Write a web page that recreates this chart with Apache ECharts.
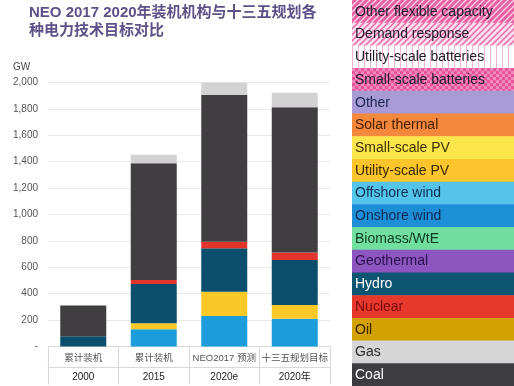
<!DOCTYPE html>
<html><head><meta charset="utf-8">
<script src="https://cdn.jsdelivr.net/npm/echarts@6/dist/echarts.min.js"></script>
<style>html,body{margin:0;padding:0;background:#fff}#c{width:514px;height:386px}</style>
</head><body><div id="c"></div>
<script>
const catTop = ['累计装机', '累计装机', 'NEO2017 预测', '十三五规划目标'];
const catBottom = ['2000', '2015', '2020e', '2020年'];
const onshoreWind = [0, 130, 231, 210];
const utilityPV = [0, 46, 184, 105];
const hydro = [78, 298, 329, 340];
const nuclear = [0, 30, 50, 58];
const coal = [232, 884, 1111, 1100];
const gas = [0, 65, 93, 110];
const yTicks = [0, 200, 400, 600, 800, 1000, 1200, 1400, 1600, 1800, 2000];

const legendNames = ['Other flexible capacity', 'Demand response', 'Utility-scale batteries', 'Small-scale batteries',
  'Other', 'Solar thermal', 'Small-scale PV', 'Utility-scale PV', 'Offshore wind', 'Onshore wind',
  'Biomass/WtE', 'Geothermal', 'Hydro', 'Nuclear', 'Oil', 'Gas', 'Coal'];
const legendColors = ['hatchA', 'hatchB', 'hatchC', 'hatchD',
  '#a89bd8', '#f4883c', '#fde64c', '#fcc52c', '#55c4ea', '#1c8fd6',
  '#70dfa0', '#8c55bf', '#0c5573', '#e6382c', '#d3a100', '#d6d6d6', '#3d3c3f'];
const legendTextColors = ['#1c1c2c', '#1c1c2c', '#1c1c2c', '#1c1c2c',
  '#1a2550', '#4a2000', '#3a3000', '#3a2a00', '#0f3050', '#0c2a55',
  '#0c3a20', '#2a1050', '#ffffff', '#7a0a0a', '#3a2500', '#2a2a2a', '#ffffff'];

function makePattern(kind) {
  const c = document.createElement('canvas');
  c.width = 6; c.height = 6;
  const g = c.getContext('2d');
  if (kind === 'hatchA') {
    g.fillStyle = '#ea5fa3'; g.fillRect(0, 0, 6, 6);
    g.strokeStyle = '#fbd3e6'; g.lineWidth = 1.4;
    g.beginPath(); g.moveTo(0, 6); g.lineTo(6, 0); g.moveTo(-3, 3); g.lineTo(3, -3); g.moveTo(3, 9); g.lineTo(9, 3); g.stroke();
  } else if (kind === 'hatchB') {
    g.fillStyle = '#fbe3ef'; g.fillRect(0, 0, 6, 6);
    g.strokeStyle = '#e8589f'; g.lineWidth = 1.3;
    g.beginPath(); g.moveTo(0, 6); g.lineTo(6, 0); g.moveTo(-3, 3); g.lineTo(3, -3); g.moveTo(3, 9); g.lineTo(9, 3); g.stroke();
  } else if (kind === 'hatchC') {
    g.fillStyle = '#ffffff'; g.fillRect(0, 0, 6, 6);
    g.fillStyle = '#f3b6d3'; g.fillRect(0, 0, 1, 6);
  } else {
    g.fillStyle = '#e8509c'; g.fillRect(0, 0, 6, 6);
    g.fillStyle = '#f28cbf'; g.fillRect(0, 0, 3, 3); g.fillRect(3, 3, 3, 3);
  }
  return { type: 'pattern', image: c, repeat: 'repeat' };
}

const rowH = 386 / legendNames.length;
const legendGraphics = [];
legendNames.forEach(function (n, i) {
  const col = legendColors[i];
  const fill = col.indexOf('hatch') === 0 ? makePattern(col) : col;
  legendGraphics.push({ type: 'rect', left: 352, top: i * rowH, shape: { width: 162, height: rowH + 0.5 }, style: { fill: fill } });
  legendGraphics.push({ type: 'text', x: 355, y: i * rowH + rowH / 2 + 0.5,
    style: { text: n, fill: legendTextColors[i], font: '14px "Liberation Sans", Arial, sans-serif', textVerticalAlign: 'middle', verticalAlign: 'middle' } });
});
legendGraphics.push({ type: 'text', left: 13, top: 62, style: { text: 'GW', fill: '#444', font: '10px "Liberation Sans", Arial, sans-serif' } });

const cats = catTop.map(function (t, i) { return t + '\n' + catBottom[i]; });
function mk(name, data, color) {
  return { name: name, type: 'bar', stack: 'total', data: data, barWidth: 46, itemStyle: { color: color }, animation: false };
}

const chart = echarts.init(document.getElementById('c'));
chart.setOption({
  backgroundColor: '#ffffff',
  animation: false,
  title: {
    text: 'NEO 2017 2020年装机机构与十三五规划各\n种电力技术目标对比',
    left: 24, top: -1,
    textStyle: { fontSize: 15, fontWeight: 'bold', color: '#5d5188', lineHeight: 18,
      fontFamily: '"Liberation Sans", "Noto Sans CJK SC", sans-serif' }
  },
  grid: { left: 48, right: 184, top: 82.5, bottom: 39.5 },
  xAxis: [{
    type: 'category', data: cats, position: 'bottom',
    axisLine: { show: true, lineStyle: { color: '#d9d9d9', width: 1 } },
    axisTick: { show: true, interval: 0, length: 38, lineStyle: { color: '#d9d9d9' } },
    axisLabel: {
      interval: 0, margin: 2,
      formatter: function (v, i) { return '{a|' + catTop[i] + '}\n{b|' + catBottom[i] + '}'; },
      rich: {
        a: { fontSize: 9.5, color: '#555', lineHeight: 20, fontFamily: '"Liberation Sans", "Noto Sans CJK SC", sans-serif' },
        b: { fontSize: 10, color: '#222', lineHeight: 18, fontFamily: '"Liberation Sans", "Noto Sans CJK SC", sans-serif' }
      }
    }
  }, {
    type: 'category', data: cats, position: 'bottom', offset: 21,
    axisLine: { show: true, lineStyle: { color: '#d9d9d9', width: 1 } },
    axisTick: { show: false }, axisLabel: { show: false }
  }],
  yAxis: {
    type: 'value', min: yTicks[0], max: yTicks[yTicks.length - 1], interval: yTicks[1] - yTicks[0],
    axisLine: { show: false }, axisTick: { show: false },
    splitLine: { lineStyle: { color: '#e9e9e9' } },
    axisLabel: {
      margin: 10, fontSize: 10, color: '#555', fontFamily: '"Liberation Sans", Arial, sans-serif',
      formatter: function (v) { return v === 0 ? '-' : v.toLocaleString('en-US'); }
    }
  },
  series: [
    mk('Onshore wind', onshoreWind, '#1b9ddb'),
    mk('Utility-scale PV', utilityPV, '#fbc927'),
    mk('Hydro', hydro, '#0b4f6d'),
    mk('Nuclear', nuclear, '#e2342b'),
    mk('Coal', coal, '#403e41'),
    mk('Gas', gas, '#d2d2d2')
  ],
  graphic: legendGraphics
});
</script></body></html>
